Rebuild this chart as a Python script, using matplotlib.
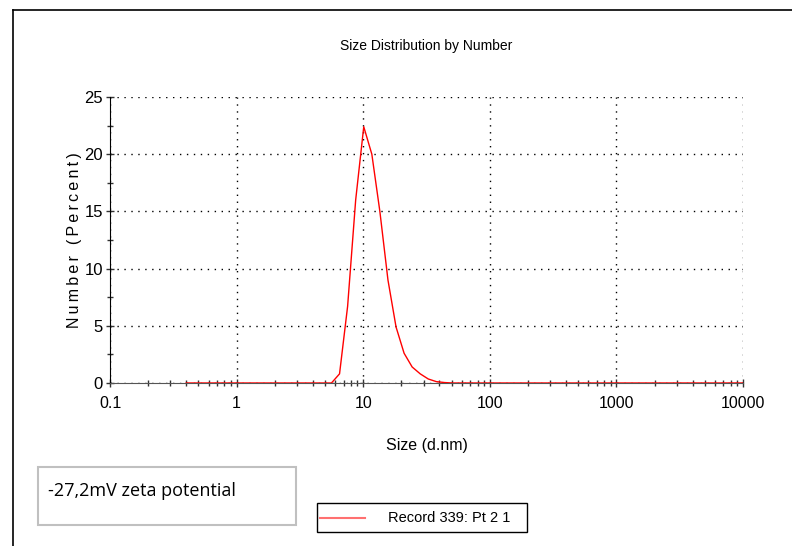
"""Size distribution by number (DLS record), redrawn with matplotlib."""
import matplotlib

matplotlib.use("Agg")
import matplotlib.pyplot as plt  # noqa: E402
from matplotlib.patches import Rectangle  # noqa: E402
from matplotlib.lines import Line2D  # noqa: E402
from matplotlib.ticker import LogLocator, MultipleLocator, FixedLocator  # noqa: E402

# size bins (d.nm) and number distribution (%)
size_nm = [0.4, 5.615, 6.503, 7.531, 8.721, 10.1, 11.7, 13.54, 15.69, 18.17,
           21.04, 24.36, 28.21, 32.67, 37.84, 43.82, 50.75, 10000]
number_pct = [0.0, 0.0, 0.8, 6.7, 16.0, 22.4, 20.0, 15.0, 9.0, 4.9,
              2.6, 1.4, 0.8, 0.35, 0.12, 0.04, 0.0, 0.0]

x_ticks = [0.1, 1, 10, 100, 1000, 10000]
x_ticklabels = ["0.1", "1", "10", "100", "1000", "10000"]
y_ticks = [0, 5, 10, 15, 20, 25]

title = "Size Distribution by Number"
ylabel = "Number (Percent)"
xlabel = "Size (d.nm)"
record_label = "Record 339: Pt 2 1"
note = "-27,2mV zeta potential"

narrow = ["Liberation Sans Narrow", "Liberation Sans", "DejaVu Sans"]

W, H = 792, 546
fig = plt.figure(figsize=(W / 100, H / 100), dpi=100)
ax = fig.add_axes([110 / W, (H - 383) / H, (743 - 110) / W, (383 - 97) / H])

ax.plot(size_nm, number_pct, color="#ff0000", lw=1.0, zorder=3)

ax.set_xscale("log")
ax.set_xlim(0.1, 10000)
ax.set_ylim(0, 25)
ax.xaxis.set_major_locator(FixedLocator(x_ticks))
ax.set_xticklabels(x_ticklabels)
ax.xaxis.set_minor_locator(LogLocator(base=10, subs=range(2, 10)))
ax.set_yticks(y_ticks)
ax.yaxis.set_minor_locator(MultipleLocator(2.5))

ax.grid(True, which="major", color="black", linestyle=(0, (1, 4)), lw=1)
for side in ("top", "right"):
    ax.spines[side].set_visible(False)
ax.spines["left"].set_color("black")
ax.spines["bottom"].set_color("#555555")
ax.tick_params(which="major", direction="inout", length=6, width=1, colors="#333333",
               labelcolor="black")
ax.tick_params(axis="y", which="major", labelsize=12, pad=2)
ax.tick_params(axis="x", which="major", labelsize=11.5, pad=6)
ax.tick_params(which="minor", direction="inout", length=4, width=1, colors="#333333")
for lab in ax.get_xticklabels() + ax.get_yticklabels():
    lab.set_family(narrow)

ax.set_title(title, fontsize=10, family=narrow, pad=34)
ax.set_xlabel(xlabel, fontsize=11.5, family=narrow, labelpad=20)
ax.set_ylabel("\u2009".join(ylabel), fontsize=11.5, family=narrow, labelpad=2)

# outer frame lines (left and top)
fig.add_artist(Line2D([13 / W, 13 / W], [0, (H - 10) / H], color="black", lw=1.2))
fig.add_artist(Line2D([13 / W, 1], [(H - 10) / H, (H - 10) / H], color="black", lw=1.2))

# zeta potential note box
fig.add_artist(Rectangle((38 / W, (H - 525) / H), 258 / W, 58 / H, fill=False,
                         edgecolor="#c0c0c0", lw=1.5))
fig.text(48 / W, (H - 491) / H, note, fontsize=13, family=["Open Sans", "DejaVu Sans"],
         va="center", ha="left")

# legend box
fig.add_artist(Rectangle((317 / W, (H - 532) / H), 210 / W, 29 / H, fill=False,
                         edgecolor="black", lw=1))
fig.add_artist(Line2D([320 / W, 365 / W], [(H - 518) / H, (H - 518) / H],
                      color="#ff7070", lw=1.5))
fig.text(388 / W, (H - 518) / H, record_label, fontsize=10.5, family=narrow,
         va="center", ha="left")

fig.savefig("out.png", dpi=100)
